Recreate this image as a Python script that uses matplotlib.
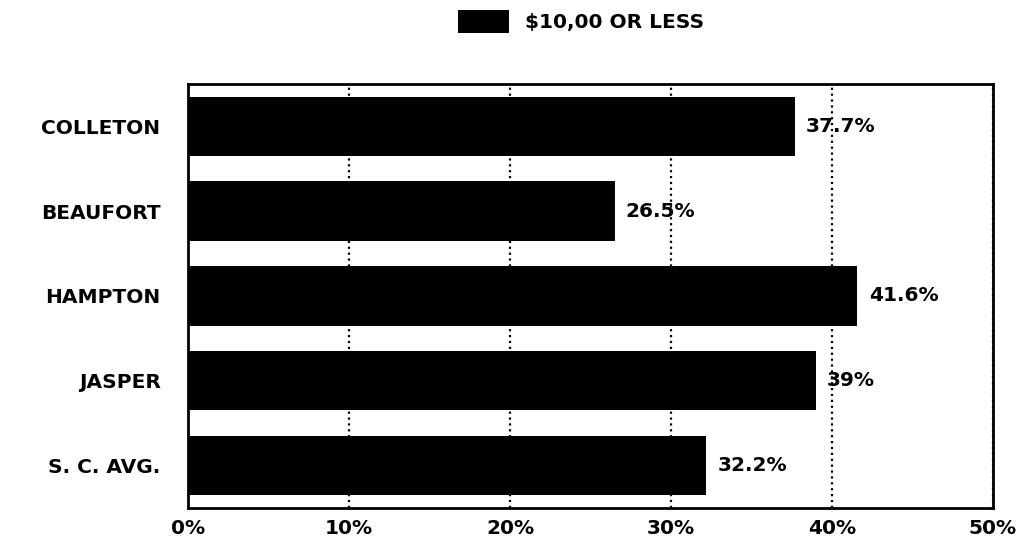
import matplotlib
matplotlib.use("Agg")
import matplotlib.pyplot as plt

# data
counties = ['COLLETON', 'BEAUFORT', 'HAMPTON', 'JASPER', 'S. C. AVG.']
values = [37.7, 26.5, 41.6, 39, 32.2]
labels = ['37.7%', '26.5%', '41.6%', '39%', '32.2%']
xticks = [0, 10, 20, 30, 40, 50]

plt.rcParams['font.family'] = 'DejaVu Sans'
plt.rcParams['font.weight'] = 'bold'

fig = plt.figure(figsize=(10.18, 5.49), dpi=100)
ax = fig.add_axes([0.185, 0.075, 0.79, 0.772])

y = range(len(counties))
ax.barh(y, values, height=0.7, color='black', zorder=3, label='\\$10,00 OR LESS')
for yi, v, lab in zip(y, values, labels):
    ax.text(v + 0.7, yi, lab, va='center', ha='left', fontsize=14.5, fontweight='bold', zorder=4)

ax.set_xlim(0, 50)
ax.set_ylim(4.5, -0.5)
ax.set_xticks(xticks)
ax.set_xticklabels([f'{t}%' for t in xticks], fontsize=14.5, fontweight='bold')
ax.set_yticks(list(y))
ax.set_yticklabels(counties, fontsize=14.5, fontweight='bold')
ax.tick_params(axis='y', length=0, pad=20)
ax.tick_params(axis='x', length=0, pad=8)
ax.xaxis.grid(True, linestyle=':', color='black', linewidth=1.6, zorder=0)
for s in ax.spines.values():
    s.set_linewidth(2)
    s.set_zorder(5)

fig.legend(loc='upper center', bbox_to_anchor=(0.571, 1.015), frameon=False,
           prop={'size': 14.5, 'weight': 'bold'}, handlelength=2.5, handleheight=1.4,
           handletextpad=0.8)

fig.savefig('out.png', dpi=100)
